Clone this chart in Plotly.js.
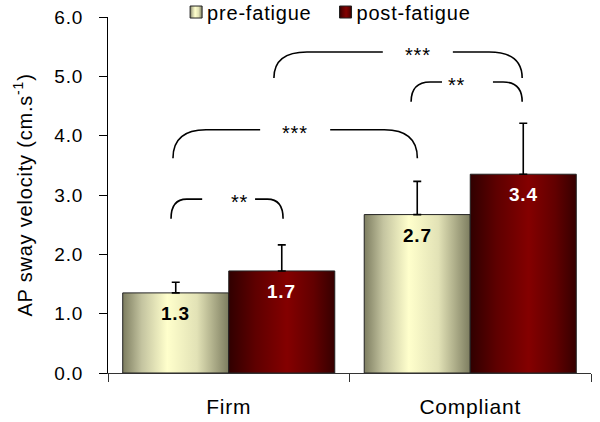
<!DOCTYPE html>
<html>
<head>
<meta charset="utf-8">
<script src="https://cdn.plot.ly/plotly-3.0.1.min.js"></script>
<style>
  html, body { margin: 0; padding: 0; background: #fff; }
  #chart { width: 600px; height: 422px; }
  text { letter-spacing: 0.8px; }
</style>
</head>
<body>
<div id="chart"></div>
<script>
// ---- data ----
const categories = ['Firm', 'Compliant'];
const preValues = [1.35, 2.67];
const postValues = [1.72, 3.35];
const preErr = [0.18, 0.56];
const postErr = [0.44, 0.86];
const preLabels = ['1.3', '2.7'];
const postLabels = ['1.7', '3.4'];
const seriesNames = ['pre-fatigue', 'post-fatigue'];
const yTickVals = [0, 1, 2, 3, 4, 5, 6];
const yTickText = ['0.0', '1.0', '2.0', '3.0', '4.0', '5.0', '6.0'];

// significance brackets (x in category units, y in data units)
const bracketX0 = [-0.239, -0.231, 0.755, 0.187];
const bracketX1 = [0.225, 0.781, 1.215, 1.215];
const bracketTop = [2.93, 4.10, 4.905, 5.41];
const bracketBot = [2.60, 3.62, 4.57, 4.97];
const bracketGap0 = [-0.11, 0.13, 0.883, 0.638];
const bracketGap1 = [0.109, 0.42, 1.094, 0.928];
const bracketTextX = [0.0, 0.274, 0.988, 0.783];
const bracketCurve = [0.065, 0.137, 0.079, 0.137];
const bracketLabels = ['**', '***', '**', '***'];

const FONT = 'Liberation Sans, Arial, sans-serif';
const bargap = 0.122;
const offset = (1 - bargap) / 4;
const toPaper = x => (x + 0.5) / 2;

const data = [
  {
    type: 'bar', name: seriesNames[0], x: categories, y: preValues,
    marker: { color: '#eeeebb', line: { color: '#222', width: 1 } },
    error_y: { type: 'data', symmetric: false, array: preErr, arrayminus: preErr.map(() => 0),
               color: '#000', thickness: 1.6, width: 4 }
  },
  {
    type: 'bar', name: seriesNames[1], x: categories, y: postValues,
    marker: { color: '#7a0000', line: { color: '#222', width: 1 } },
    error_y: { type: 'data', symmetric: false, array: postErr, arrayminus: postErr.map(() => 0),
               color: '#000', thickness: 1.6, width: 4 }
  }
];

const annotations = [];
categories.forEach((c, i) => {
  annotations.push({ x: i - offset, y: preValues[i], xref: 'x', yref: 'y', text: '<b>' + preLabels[i] + '</b>',
    showarrow: false, yanchor: 'top', yshift: -8, font: { family: FONT, size: 19, color: '#000' } });
  annotations.push({ x: i + offset, y: postValues[i], xref: 'x', yref: 'y', text: '<b>' + postLabels[i] + '</b>',
    showarrow: false, yanchor: 'top', yshift: -8, font: { family: FONT, size: 19, color: '#fff' } });
});

const shapes = [];
bracketLabels.forEach((lab, i) => {
  const x0 = bracketX0[i], x1 = bracketX1[i], yt = bracketTop[i], yb = bracketBot[i], d = bracketCurve[i];
  const p = toPaper;
  const path = `M ${p(x0)},${yb} Q ${p(x0)},${yt} ${p(x0 + d)},${yt} L ${p(bracketGap0[i])},${yt} ` +
               `M ${p(bracketGap1[i])},${yt} L ${p(x1 - d)},${yt} Q ${p(x1)},${yt} ${p(x1)},${yb}`;
  shapes.push({ type: 'path', xref: 'paper', yref: 'y', path: path, line: { color: '#000', width: 1.6 } });
  annotations.push({ x: p(bracketTextX[i]), y: yt, xref: 'paper', yref: 'y', text: lab, showarrow: false,
    yanchor: 'middle', yshift: -3, font: { family: FONT, size: 20, color: '#000' } });
});

const layout = {
  width: 600, height: 422,
  margin: { l: 108, r: 9, t: 17, b: 49, autoexpand: false },
  paper_bgcolor: '#fff', plot_bgcolor: '#fff',
  font: { family: FONT, size: 19, color: '#000' },
  barmode: 'group', bargap: bargap, bargroupgap: 0,
  showlegend: true,
  legend: { orientation: 'h', x: 0.141, xanchor: 'left', y: 1.014, yanchor: 'middle',
            font: { family: FONT, size: 20, color: '#000' }, bgcolor: 'rgba(0,0,0,0)' },
  xaxis: {
    type: 'category', range: [-0.5, 1.5], tickson: 'boundaries', ticks: 'outside', ticklen: 8,
    tickcolor: '#333', showline: true, linecolor: '#333', linewidth: 1, showgrid: false,
    tickfont: { family: FONT, size: 21, color: '#000' }, ticklabelstandoff: 15, fixedrange: true
  },
  yaxis: {
    range: [0, 6], tickvals: yTickVals, ticktext: yTickText, ticks: 'outside', ticklen: 8,
    tickcolor: '#000', showline: true, linecolor: '#000', linewidth: 1, showgrid: false, zeroline: false,
    tickfont: { family: FONT, size: 19, color: '#000' }, ticklabelstandoff: 12,
    title: { text: 'AP sway velocity (cm.s<sup>-1</sup>)', font: { family: FONT, size: 20, color: '#000' }, standoff: 16 },
    automargin: false, fixedrange: true
  },
  shapes: shapes,
  annotations: annotations
};

const gradients = [
  { id: 'gradPre', stops: [[0, '#7d7d60'], [0.18, '#c4c4a0'], [0.42, '#ffffcc'], [0.7, '#e2e2b6'], [1, '#7d7d60']] },
  { id: 'gradPost', stops: [[0, '#300000'], [0.25, '#5e0000'], [0.55, '#840000'], [0.8, '#620000'], [1, '#360000']] }
];

function applyGradients(gd) {
  const ns = 'http://www.w3.org/2000/svg';
  const svg = gd.querySelector('svg.main-svg');
  let defs = svg.querySelector('defs');
  if (!defs) { defs = document.createElementNS(ns, 'defs'); svg.insertBefore(defs, svg.firstChild); }
  gradients.forEach(g => {
    const lg = document.createElementNS(ns, 'linearGradient');
    lg.setAttribute('id', g.id);
    lg.setAttribute('x1', '0'); lg.setAttribute('y1', '0');
    lg.setAttribute('x2', '1'); lg.setAttribute('y2', '0');
    g.stops.forEach(s => {
      const st = document.createElementNS(ns, 'stop');
      st.setAttribute('offset', s[0]);
      st.setAttribute('stop-color', s[1]);
      lg.appendChild(st);
    });
    defs.appendChild(lg);
  });
  gd.querySelectorAll('.barlayer .trace').forEach((t, i) => {
    t.querySelectorAll('.point path').forEach(p => { p.style.fill = `url(#${gradients[i].id})`; });
  });
  gd.querySelectorAll('.legend .traces').forEach((t, i) => {
    t.querySelectorAll('.legendpoints path').forEach(p => { p.style.fill = `url(#${gradients[i].id})`; });
    const txt = t.querySelector('text.legendtext');
    if (txt) { txt.setAttribute('x', parseFloat(txt.getAttribute('x') || 40) - 9); }
  });
  gd.querySelectorAll('.legend .scrollbox, .legend').forEach(el => { el.removeAttribute('clip-path'); });
}

Plotly.newPlot('chart', data, layout, { staticPlot: true, displayModeBar: false }).then(applyGradients);
</script>
</body>
</html>
